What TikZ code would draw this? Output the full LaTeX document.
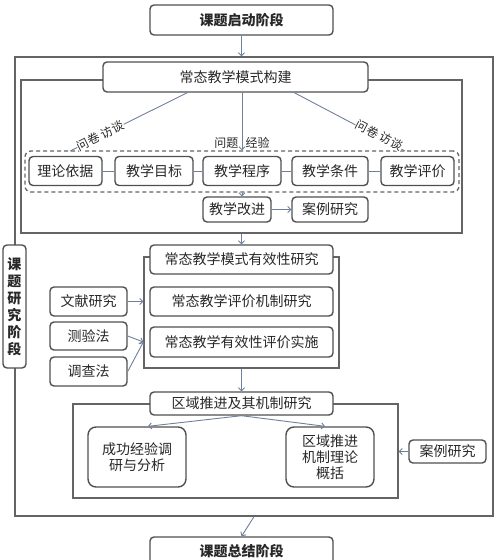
\documentclass[tikz,border=0pt]{standalone}
\usepackage{fontspec}
\setmainfont{Noto Sans CJK SC}
\usetikzlibrary{arrows.meta,fit,calc}
\definecolor{boxcol}{RGB}{80,80,80}
\definecolor{framecol}{RGB}{100,100,100}
\definecolor{linecol}{RGB}{110,128,155}
\definecolor{txtcol}{RGB}{40,40,40}
\begin{document}
\begin{tikzpicture}[x=1pt,y=-1pt,
  box/.style={draw=boxcol, line width=1.4pt, rounded corners=4pt, fill=white, text=txtcol,
              font=\fontsize{14}{16}\selectfont, inner sep=0pt, align=center},
  frame/.style={draw=framecol, line width=1.3pt, inner sep=0pt},
  conn/.style={draw=linecol, line width=0.9pt},
  arr/.style={conn, -{Straight Barb[length=3pt,width=6pt]}},
  lbl/.style={text=txtcol, font=\fontsize{12}{13}\selectfont, inner sep=0.5pt}]
\useasboundingbox (0,0) rectangle (500,560);
\clip (0,0) rectangle (500,560);
% frames
\node[frame, fit={(15,57) (493,516)}] (outer) {};
\node[frame, fit={(21,80) (462,233)}] (f1) {};
\node[frame, fit={(144,257) (339,368)}] (f2) {};
\node[frame, fit={(73,404) (398,498)}] (f3) {};
\node[draw=framecol, line width=1.3pt, dash pattern=on 4pt off 3pt, rounded corners=6pt,
      inner sep=0pt, fit={(25,151) (459,192)}] (dash) {};
% top / bottom
\node[box, minimum width=183, minimum height=30] (start) at (241.5,20) {\bfseries 课题启动阶段};
\node[box, minimum width=183, minimum height=28] (finish) at (241.5,551) {\bfseries 课题总结阶段};
\node[box, minimum width=23, minimum height=123, font=\fontsize{14}{17}\selectfont\bfseries]
  (research) at (14.5,306.5) {课\\题\\研\\究\\阶\\段};
% stage 1
\node[box, minimum width=265, minimum height=30] (build) at (235.5,77) {常态教学模式构建};
\node[box, minimum width=73, minimum height=29] (theory) at (65.5,171) {理论依据};
\node[box, minimum width=78, minimum height=29] (goal) at (154,171) {教学目标};
\node[box, minimum width=78, minimum height=29] (prog) at (242,171) {教学程序};
\node[box, minimum width=76, minimum height=29] (cond) at (330,171) {教学条件};
\node[box, minimum width=73, minimum height=29] (eval) at (417.5,171) {教学评价};
\node[box, minimum width=68, minimum height=25] (improve) at (237,209.5) {教学改进};
\node[box, minimum width=76, minimum height=25] (case1) at (330,209.5) {案例研究};
% stage 2
\node[box, minimum width=183, minimum height=29] (eff) at (241.5,259.5) {常态教学模式有效性研究};
\node[box, minimum width=183, minimum height=29] (mech) at (241.5,301.5) {常态教学评价机制研究};
\node[box, minimum width=183, minimum height=30] (impl) at (241.5,342) {常态教学有效性评价实施};
\node[box, minimum width=77, minimum height=29] (lit) at (88.5,301.5) {文献研究};
\node[box, minimum width=77, minimum height=28] (test) at (88.5,336) {测验法};
\node[box, minimum width=77, minimum height=29] (survey) at (88.5,371.5) {调查法};
% stage 3
\node[box, minimum width=183, minimum height=23] (region) at (241.5,403.5) {区域推进及其机制研究};
\node[box, minimum width=98, minimum height=60, rounded corners=8pt] (succ) at (137,457) {成功经验调\\研与分析};
\node[box, minimum width=88, minimum height=60, rounded corners=8pt] (theo2) at (330,457) {区域推进\\机制理论\\概括};
\node[box, minimum width=77, minimum height=23] (case2) at (447.5,451.5) {案例研究};
% connectors
\draw[arr] (start.south) -- (start.south |- outer.north);
\coordinate (bl) at ($(build.south west)+(85,0)$);
\coordinate (br) at ($(build.south west)+(192,0)$);
\coordinate (dl) at (70,151);
\coordinate (dr) at (405,151);
\draw[conn] (bl) -- node[lbl, sloped, fill=white, pos=0.74] (lq1) {问卷 访谈} (dl);
\draw[conn] (br) -- node[lbl, sloped, fill=white, pos=0.76, yshift=2pt] (lq2) {问卷 访谈} (dr);
\draw[arr] (build.south -| prog) -- (dash.north -| prog);
\node[lbl, anchor=south east] (lp) at ($(dash.north -| prog)+(-3,-1)$) {问题};
\node[lbl, anchor=south west] (le) at ($(dash.north -| prog)+(3,-1)$) {经验};
\draw[conn] (theory) -- (goal);
\draw[conn] (goal) -- (prog);
\draw[conn] (prog) -- (cond);
\draw[conn] (cond) -- (eval);
\draw[arr] (dash.south -| prog) -- (improve.north -| prog);
\draw[arr] (improve) -- (case1);
\draw[arr] (f1.south) -- (eff.north);
\draw[arr] (lit) -- (lit -| f2.west);
\draw[arr] (test.east) -- (f2.west |- impl);
\draw[arr] (survey.east) -- (f2.west |- impl);
\draw[arr] (f2.south) -- (region.north);
\draw[arr] (region.south) -- ($(succ.north)+(11,0)$);
\draw[arr] (region.south) -- ($(theo2.north)+(-5,0)$);
\draw[arr] (case2.west) -- (case2.west -| f3.east);
\draw[arr] (outer.south) -- (finish.north);
\end{tikzpicture}
\end{document}
